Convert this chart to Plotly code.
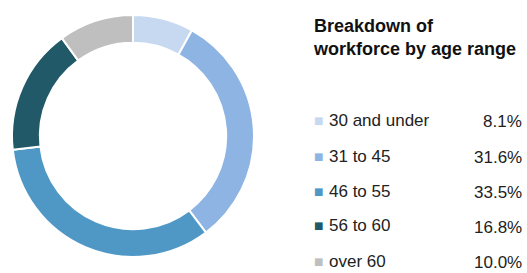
import plotly.graph_objects as go

categories = ["30 and under", "31 to 45", "46 to 55", "56 to 60", "over 60"]
shares = [8.1, 31.6, 33.5, 16.8, 10.0]
pct_labels = ["8.1%", "31.6%", "33.5%", "16.8%", "10.0%"]
colors = ["#c6d9f1", "#8eb4e3", "#4f98c6", "#215968", "#bfbfbf"]
title_text = "Breakdown of<br>workforce by age range"

W, H = 527, 273

def px(x):
    return x / W

def py(y):
    return 1 - y / H

fig = go.Figure()
fig.add_trace(go.Pie(
    labels=categories,
    values=shares,
    hole=0.77,
    sort=False,
    direction="clockwise",
    rotation=0,
    marker=dict(colors=colors, line=dict(color="white", width=2)),
    textinfo="none",
    hoverinfo="label+percent",
    showlegend=False,
    domain=dict(x=[px(12), px(254)], y=[py(257), py(15)]),
))

annotations = [dict(
    text="<b>" + title_text + "</b>", x=px(311), y=py(14), xref="paper", yref="paper",
    xanchor="left", yanchor="top", showarrow=False, align="left",
    font=dict(family="Liberation Sans, Arial, sans-serif", size=18, color="#111111"),
)]

row_y = [120, 156, 191, 226, 261]
for i, (cat, pl, col) in enumerate(zip(categories, pct_labels, colors)):
    yy = py(row_y[i])
    annotations.append(dict(
        text="■", x=px(312), y=yy, xref="paper", yref="paper", xanchor="left", yanchor="middle",
        showarrow=False, font=dict(family="DejaVu Sans", size=10, color=col),
    ))
    annotations.append(dict(
        text=cat, x=px(327), y=yy, xref="paper", yref="paper", xanchor="left", yanchor="middle",
        showarrow=False, font=dict(family="Liberation Sans, Arial, sans-serif", size=17, color="#222222"),
    ))
    annotations.append(dict(
        text=pl, x=px(524), y=py(row_y[i] + 1), xref="paper", yref="paper", xanchor="right", yanchor="middle",
        showarrow=False, font=dict(family="Liberation Sans, Arial, sans-serif", size=17, color="#222222"),
    ))

fig.update_layout(
    width=W, height=H,
    margin=dict(l=0, r=0, t=0, b=0),
    paper_bgcolor="white", plot_bgcolor="white",
    annotations=annotations,
)

fig.write_html(
    "out.html",
    config={"displayModeBar": False},
    post_script="document.body.style.margin='0';document.body.style.overflow='hidden';",
)
